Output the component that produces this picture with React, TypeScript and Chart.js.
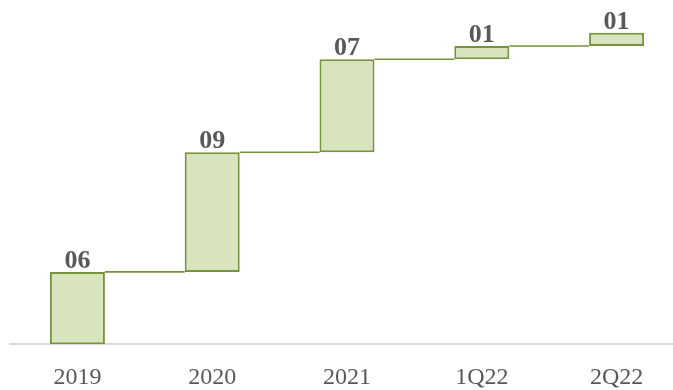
import React, { useEffect, useRef } from "react";
import { Chart, registerables } from "chart.js";

Chart.register(...registerables);

const categories = ["2019", "2020", "2021", "1Q22", "2Q22"];
const increments = [6, 9, 7, 1, 1];
const axisMin = 0.56;
const axisMax = 25;

const FILL = "#d7e4bd";
const EDGE = "#76923c";
const TEXT = "#595959";
const SERIF = "'Liberation Serif', 'Times New Roman', serif";

export default function App() {
  const ref = useRef<HTMLCanvasElement | null>(null);

  useEffect(() => {
    if (!ref.current) return;
    const cumulative: number[] = [];
    let run = 0;
    increments.forEach((v) => {
      run += v;
      cumulative.push(run);
    });
    const ranges = increments.map((v, i) => {
      const start = i === 0 ? axisMin : cumulative[i - 1];
      return [start, cumulative[i]];
    });

    const waterfallPlugin = {
      id: "waterfallExtras",
      afterDatasetsDraw(chart: any) {
        const ctx = chart.ctx;
        const meta = chart.getDatasetMeta(0);
        const yScale = chart.scales.y;
        ctx.save();
        ctx.strokeStyle = EDGE;
        ctx.lineWidth = 1.6;
        for (let i = 0; i < meta.data.length - 1; i++) {
          const a = meta.data[i];
          const b = meta.data[i + 1];
          const y = yScale.getPixelForValue(cumulative[i]);
          ctx.beginPath();
          ctx.moveTo(a.x + a.width / 2, y);
          ctx.lineTo(b.x - b.width / 2, y);
          ctx.stroke();
        }
        ctx.fillStyle = TEXT;
        ctx.font = `bold 26px ${SERIF}`;
        ctx.textAlign = "center";
        ctx.textBaseline = "alphabetic";
        meta.data.forEach((bar: any, i: number) => {
          const top = yScale.getPixelForValue(cumulative[i]);
          ctx.fillText(String(increments[i]).padStart(2, "0"), bar.x, top - 4);
        });
        ctx.restore();
      },
    };

    const chart = new Chart(ref.current, {
      type: "bar",
      data: {
        labels: categories,
        datasets: [
          {
            data: ranges as any,
            backgroundColor: FILL,
            borderColor: EDGE,
            borderWidth: 2,
            borderSkipped: false,
            categoryPercentage: 1,
            barPercentage: 0.408,
          },
        ],
      },
      options: {
        animation: false,
        responsive: false,
        layout: { padding: { left: 10, right: 6, top: 19.4, bottom: 0 } },
        plugins: { legend: { display: false }, tooltip: { enabled: false } },
        scales: {
          x: {
            grid: { display: false, drawTicks: false },
            border: { display: true, color: "#d9d9d9", width: 2 },
            ticks: {
              color: TEXT,
              font: { family: SERIF, size: 24 },
              padding: 19.5,
            },
          },
          y: {
            display: false,
            min: axisMin,
            max: axisMax,
          },
        },
      },
      plugins: [waterfallPlugin],
    });
    return () => chart.destroy();
  }, []);

  return (
    <div
      style={{
        position: "fixed",
        left: 0,
        top: 0,
        width: 673,
        height: 390,
        overflow: "hidden",
        background: "#ffffff",
      }}
    >
      <canvas ref={ref} width={690} height={412} style={{ display: "block" }} />
    </div>
  );
}
